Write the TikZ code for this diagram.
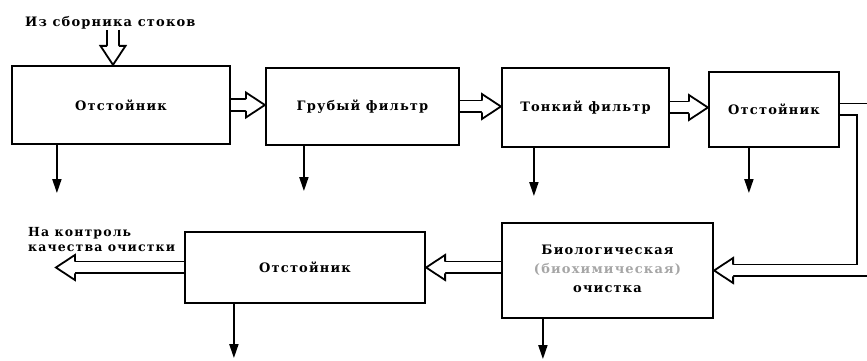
\documentclass[tikz,border=0pt]{standalone}
\usepackage{fontspec}
\setmainfont{DejaVu Serif}[LetterSpace=9]
\usepackage{tikz}
\usetikzlibrary{arrows.meta, calc}

% hollow head of a pipe arrow: tip at #1, pointing at angle #2
\newcommand{\hhead}[2]{%
  \draw[headline, shift={(#1)}, rotate=#2] (-19,5.9) -- (-19,12.5) -- (0,0) -- (-19,-12.5) -- (-19,-5.9);}

\begin{document}
\begin{tikzpicture}[x=1pt, y=1pt,
  font=\bfseries\fontsize{13}{15}\selectfont,
  box/.style={draw, line width=2.2pt, inner sep=0pt},
  pipe/.style={double=white, double distance=10pt, line width=1.8pt, line join=miter, shorten >=19pt},
  headline/.style={draw, fill=white, line width=1.8pt, line join=miter},
  sludge/.style={draw, line width=1.8pt, -{Triangle[length=14pt, width=9pt]}}]

\useasboundingbox (0,0) rectangle (867,361);

% upper row
\node[box, minimum width=218, minimum height=78] (ost1) at (121,256) {Отстойник};
\node[box, minimum width=193, minimum height=77] (gr) at (362.5,254.5) {Грубый фильтр};
\node[box, minimum width=167, minimum height=79] (fine) at (585.5,253.5) {Тонкий фильтр};
\node[box, minimum width=130, minimum height=75] (ost2) at (774,251.5) {Отстойник};

% lower row
\node[box, minimum width=240, minimum height=71] (ost3) at (305,93.5) {Отстойник};
\node[box, minimum width=211, minimum height=95] (bio) at (607.5,90.5)
  {\raisebox{-6pt}{\begin{tabular}{@{}c@{}}Биологическая\\[4pt]{\color{black!35}(биохимическая)}\\[4pt]очистка\end{tabular}}};

% texts
\node[anchor=west, inner sep=0pt] (src) at (25,338) {Из сборника стоков};
\node[anchor=north west, inner sep=0pt, align=left, font=\bfseries\fontsize{12.5}{15}\selectfont] (qc) at (28,134) {На контроль\\качества очистки};

\coordinate (inlet) at ($(ost1.north)+(-8,0)$);
\coordinate (turn) at ($(ost2.east)+(23,0)$);
\coordinate (outlet) at ($(ost3.west)+(-128,0)$);

% water line
\draw[pipe] (inlet |- src.south) -- (inlet);
\hhead{inlet}{-90}
\draw[pipe] (ost1.east) -- (ost1.east -| gr.west);
\hhead{ost1.east -| gr.west}{0}
\draw[pipe] (gr.east) -- (gr.east -| fine.west);
\hhead{gr.east -| fine.west}{0}
\draw[pipe] (fine.east) -- (fine.east -| ost2.west);
\hhead{fine.east -| ost2.west}{0}
\draw[pipe] (ost2.east) -- (turn) |- (bio.east);
\hhead{bio.east}{180}
\draw[pipe] (bio.west |- ost3.east) -- (ost3.east);
\hhead{ost3.east}{180}
\draw[pipe] (ost3.west) -- (outlet);
\hhead{outlet}{180}

% sludge outlets
\foreach \b/\dx/\dy in {ost1/46/48, gr/39/45, fine/33/48, ost2/41/45, ost3/50/54, bio/42/40} {
  \coordinate (\b-out) at ($(\b.south west)+(\dx,-\dy)$);
  \draw[sludge] (\b-out |- \b.south) -- (\b-out);
}

\end{tikzpicture}
\end{document}
